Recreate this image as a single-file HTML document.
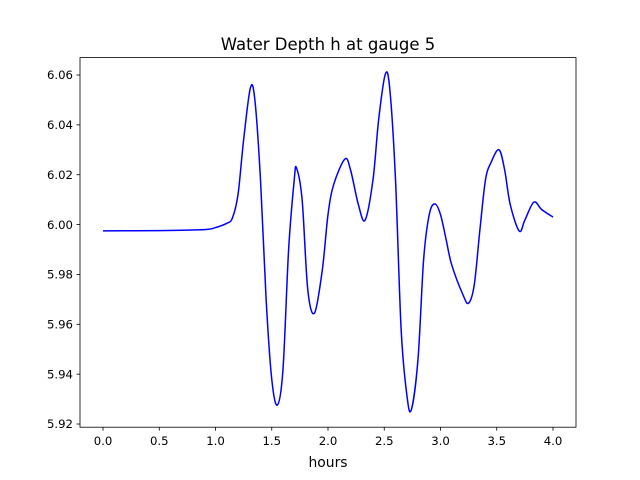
<!DOCTYPE html>
<html><head><meta charset="utf-8"><style>
body{margin:0;background:#fff;}
svg{display:block;font-family:"DejaVu Sans","Liberation Sans",sans-serif;}
</style></head><body>
<svg id="chart" width="640" height="480">
<rect width="640" height="480" fill="#fff"/>
<text x="328" y="50" font-size="16.5" text-anchor="middle">Water Depth h at gauge 5</text>
<text x="328" y="467" font-size="13.9" text-anchor="middle">hours</text>
<g id="xticks"></g>
<g id="yticks"></g>
<path id="line" fill="none" stroke="#0000ff" stroke-width="1.5"/>
<rect x="80" y="57.6" width="496" height="369.6" fill="none" stroke="#000" stroke-width="0.8"/>
</svg>
<script>
const hours=[0,0.5,0.9,1.0,1.1,1.15,1.2,1.25,1.31,1.35,1.4,1.45,1.5,1.55,1.6,1.65,1.7,1.72,1.77,1.82,1.88,1.95,2.0,2.05,2.15,2.2,2.27,2.33,2.4,2.45,2.51,2.55,2.6,2.65,2.7,2.74,2.8,2.85,2.9,2.95,3.0,3.05,3.1,3.2,3.25,3.3,3.35,3.4,3.45,3.52,3.57,3.62,3.7,3.75,3.83,3.9,4.0];
const depth=[5.9975,5.9976,5.998,5.9988,6.0005,6.0026,6.012,6.034,6.0548,6.050,6.018,5.970,5.938,5.9276,5.942,5.990,6.018,6.0227,6.010,5.974,5.9645,5.982,6.004,6.016,6.0263,6.022,6.008,6.0018,6.018,6.042,6.0604,6.054,6.018,5.958,5.932,5.9256,5.946,5.986,6.004,6.0083,6.004,5.994,5.9838,5.9718,5.9685,5.9758,5.9978,6.018,6.025,6.030,6.022,6.008,5.9974,6.0018,6.009,6.006,6.003];
const xTickVals=[0,0.5,1,1.5,2,2.5,3,3.5,4];
const xTickLabels=["0.0","0.5","1.0","1.5","2.0","2.5","3.0","3.5","4.0"];
const yTickVals=[5.92,5.94,5.96,5.98,6.00,6.02,6.04,6.06];
const yTickLabels=["5.92","5.94","5.96","5.98","6.00","6.02","6.04","6.06"];
const NS="http://www.w3.org/2000/svg";
const X=v=>103+v*112.5;
const Y=v=>75+(6.06-v)*2493;
const xg=document.getElementById('xticks'),yg=document.getElementById('yticks');
xTickVals.forEach((v,i)=>{
 const l=document.createElementNS(NS,'line');
 
 
 l.setAttribute('x1',X(v));l.setAttribute('x2',X(v));l.setAttribute('y1',427.2);l.setAttribute('y2',430.7);l.setAttribute('stroke','#000');l.setAttribute('stroke-width','0.8');xg.appendChild(l);
 const t=document.createElementNS(NS,'text');
 
 
 t.setAttribute('x',X(v));t.setAttribute('y',445);t.setAttribute('font-size','11.7');t.setAttribute('text-anchor','middle');t.textContent=xTickLabels[i];xg.appendChild(t);
});
yTickVals.forEach((v,i)=>{
 const l=document.createElementNS(NS,'line');
 
 
 l.setAttribute('x1',76.5);l.setAttribute('x2',80);l.setAttribute('y1',Y(v));l.setAttribute('y2',Y(v));l.setAttribute('stroke','#000');l.setAttribute('stroke-width','0.8');yg.appendChild(l);
 const t=document.createElementNS(NS,'text');
 
 
 t.setAttribute('x',73);t.setAttribute('y',Y(v)+4.2);t.setAttribute('font-size','11.7');t.setAttribute('text-anchor','end');t.textContent=yTickLabels[i];yg.appendChild(t);
});
const P=hours.map((h,i)=>[X(h),Y(depth[i])]);
let d='M'+P[0][0]+','+P[0][1];
for(let i=0;i<P.length-1;i++){
 const p0=P[Math.max(0,i-1)],p1=P[i],p2=P[i+1],p3=P[Math.min(P.length-1,i+2)];
 const c1=[p1[0]+(p2[0]-p0[0])/6,p1[1]+(p2[1]-p0[1])/6];
 const c2=[p2[0]-(p3[0]-p1[0])/6,p2[1]-(p3[1]-p1[1])/6];
 d+=' C'+c1[0]+','+c1[1]+' '+c2[0]+','+c2[1]+' '+p2[0]+','+p2[1];
}
document.getElementById('line').setAttribute('d',d);
</script>
</body></html>
